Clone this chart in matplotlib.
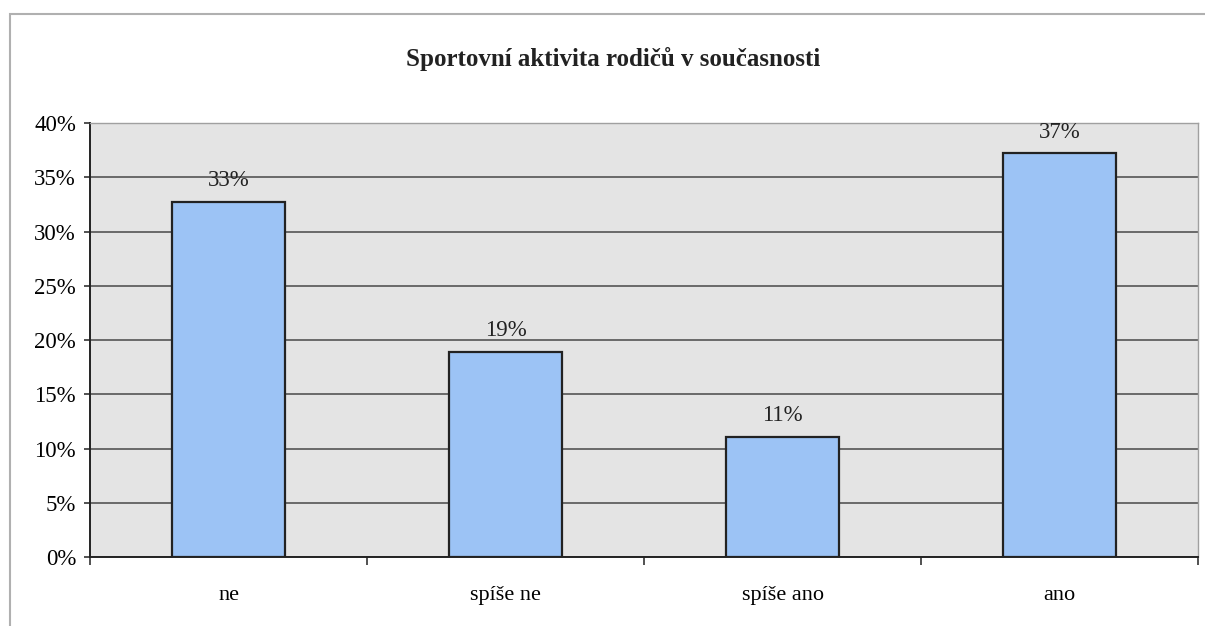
import numpy as np
import matplotlib.pyplot as plt
from matplotlib.patches import Rectangle

categories = ["ne", "spíše ne", "spíše ano", "ano"]
values = [32.7, 18.9, 11.1, 37.2]
labels = ["33%", "19%", "11%", "37%"]
yticks = [0, 5, 10, 15, 20, 25, 30, 35, 40]

plt.rcParams['font.family'] = ['Liberation Serif', 'DejaVu Serif']

fig = plt.figure(figsize=(12.05, 6.26), dpi=100)
ax = fig.add_axes([0.0747, 0.110, 0.9195, 0.6935])

# okraj grafu (jako v naskenovaném dokumentu)
fig.patches.append(Rectangle((0.008, -0.01), 1.0, 0.988, transform=fig.transFigure,
                             fill=False, edgecolor="#b0b0b0", linewidth=1.5))

x = np.arange(len(categories))
ax.set_facecolor("#e4e4e4")
ax.bar(x, values, width=0.405, color="#9cc3f5", edgecolor="#222222", linewidth=1.6, zorder=3)

for xi, v, lab in zip(x, values, labels):
    ax.text(xi, v + 1.0, lab, ha="center", va="bottom", fontsize=16.5, color="#222222")

ax.set_xlim(-0.5, len(categories) - 0.5)
ax.set_ylim(0, 40)
ax.set_yticks(yticks)
ax.set_yticklabels([f"{t}%" for t in yticks], fontsize=16.5)
ax.yaxis.grid(True, color="#555555", linewidth=1.2, zorder=1)
ax.tick_params(axis="y", length=4, width=1.2, color="#333333", pad=6)

ax.set_xticks(x)
ax.set_xticklabels(categories, fontsize=16)
ax.set_xticks(np.arange(-0.5, len(categories)), minor=True)
ax.tick_params(axis="x", which="major", length=0, pad=21)
ax.tick_params(axis="x", which="minor", length=6, width=1.2, color="#333333")

for s in ["left", "bottom"]:
    ax.spines[s].set_color("#222222")
    ax.spines[s].set_linewidth(1.4)
for s in ["top", "right"]:
    ax.spines[s].set_color("#a0a0a0")
    ax.spines[s].set_linewidth(1.0)

fig.text(0.509, 0.906, "Sportovní aktivita rodičů v současnosti", ha="center", va="center",
         fontsize=18, fontweight="bold", color="#222222")

fig.savefig("out.png", dpi=100)
